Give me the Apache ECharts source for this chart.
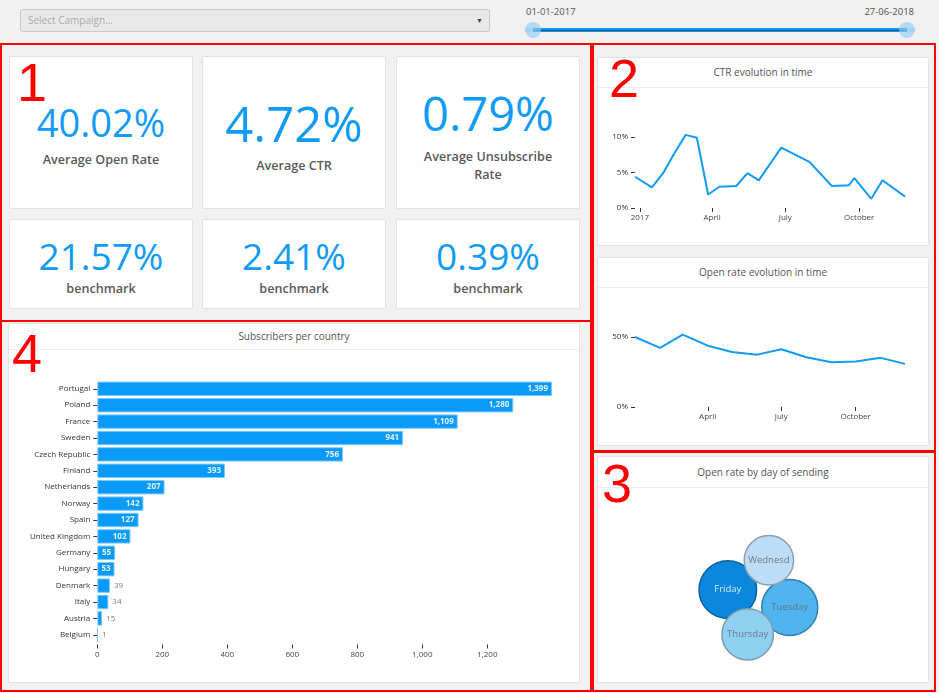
<!DOCTYPE html>
<html>
<head>
<meta charset="utf-8">
<script src="https://cdn.jsdelivr.net/npm/echarts@6/dist/echarts.min.js"></script>
<style>
html,body{margin:0;padding:0;width:939px;height:693px;overflow:hidden;background:#f1f1f1;font-family:"Open Sans",sans-serif;}
.card{position:absolute;background:#fff;border:1px solid #e3e3e3;border-radius:2px;box-sizing:border-box;}
.hdr{position:absolute;left:0;right:0;top:0;border-bottom:1px solid #ececec;text-align:center;color:#555;font-size:10px;}
.kpi{position:absolute;text-align:center;color:#129bf5;white-space:nowrap;font-weight:400;}
.lbl{position:absolute;text-align:center;color:#5a5a5a;font-weight:600;font-size:12.6px;line-height:13px;white-space:nowrap;}
.red{position:absolute;border:2px solid #ff0000;box-sizing:border-box;pointer-events:none;z-index:5;}
.num{position:absolute;color:#ff0000;font-family:"Liberation Sans",Arial,sans-serif;font-size:54px;line-height:54px;z-index:5;}
#chart{position:absolute;left:0;top:0;width:939px;height:693px;z-index:3;}
.sel{position:absolute;left:20px;top:9px;width:470px;height:23px;background:#e9e9e9;border:1px solid #c9c9c9;border-radius:3px;box-sizing:border-box;font-size:10px;color:#a9a9a9;line-height:21px;padding-left:7px;}
.sel .arr{position:absolute;right:6px;top:0;font-size:7px;color:#444;}
.sl{position:absolute;font-size:9.5px;color:#555;line-height:12px;}
</style>
</head>
<body>
<div class="sel">Select Campaign...<span class="arr">&#9660;</span></div>
<div class="sl" style="left:526px;top:6px;">01-01-2017</div>
<div class="sl" style="left:814px;top:6px;width:100px;text-align:right;">27-06-2018</div>
<div style="position:absolute;left:524px;top:28px;width:392px;height:4px;background:rgba(150,205,245,0.5);border-radius:2px;"></div>
<div style="position:absolute;left:533px;top:28px;width:374px;height:4px;background:#1993ec;"></div>
<div style="position:absolute;left:533px;top:29.5px;width:374px;height:1px;background:#0b5c9e;"></div>
<div style="position:absolute;left:525px;top:22px;width:16px;height:16px;border-radius:50%;background:rgba(150,205,245,0.65);"></div>
<div style="position:absolute;left:899px;top:22px;width:16px;height:16px;border-radius:50%;background:rgba(150,205,245,0.65);"></div>

<div id="cards"></div>

<div class="card" style="left:597px;top:57px;width:332px;height:189px;"><div class="hdr" style="height:29px;line-height:29px;">CTR evolution in time</div></div>
<div class="card" style="left:597px;top:257px;width:332px;height:189px;"><div class="hdr" style="height:29px;line-height:29px;">Open rate evolution in time</div></div>
<div class="card" style="left:597px;top:456px;width:332px;height:227px;"><div class="hdr" style="height:30px;line-height:31px;">Open rate by day of sending</div></div>
<div class="card" style="left:8px;top:323px;width:572px;height:360px;"><div class="hdr" style="height:25px;line-height:24px;">Subscribers per country</div></div>

<div id="chart"></div>

<div class="red" style="left:0;top:43px;width:592px;height:279px;"></div>
<div class="red" style="left:0;top:320px;width:592px;height:372px;"></div>
<div class="red" style="left:592px;top:43px;width:344px;height:409px;"></div>
<div class="red" style="left:592px;top:451px;width:344px;height:241px;"></div>
<div class="num" style="left:17px;top:55px;">1</div>
<div class="num" style="left:609px;top:51px;">2</div>
<div class="num" style="left:602px;top:456px;">3</div>
<div class="num" style="left:12px;top:326px;">4</div>

<script>
// ---------- data ----------
const kpiValues = ['40.02%', '4.72%', '0.79%'];
const kpiLabels = ['Average Open Rate', 'Average CTR', 'Average Unsubscribe<br>Rate'];
const benchmarkValues = ['21.57%', '2.41%', '0.39%'];
const benchmarkLabel = 'benchmark';

const countries = ['Portugal','Poland','France','Sweden','Czech Republic','Finland','Netherlands','Norway','Spain','United Kingdom','Germany','Hungary','Denmark','Italy','Austria','Belgium'];
const subscribers = [1399,1280,1109,941,756,393,207,142,127,102,55,53,39,34,15,1];
const barTicks = [0,200,400,600,800,1000,1200];

const ctrDates = ['2016-12-26','2017-01-16','2017-01-30','2017-02-13','2017-02-27','2017-03-13','2017-03-27','2017-04-10','2017-05-01','2017-05-15','2017-05-29','2017-06-26','2017-07-31','2017-08-28','2017-09-18','2017-09-25','2017-10-16','2017-10-30','2017-11-27'];
const ctrValues = [4.4,2.9,4.9,7.7,10.3,9.9,1.9,3.0,3.1,4.9,3.9,8.5,6.5,3.1,3.2,4.2,1.3,3.9,1.6];
const ctrTickDates = ['2017-01-01','2017-04-01','2017-07-01','2017-10-01'];
const ctrTickLabels = ['2017','April','July','October'];
const ctrPctTicks = [0,5,10];

const openDates = ['2017-01-01','2017-02-01','2017-03-01','2017-04-01','2017-05-01','2017-06-01','2017-07-01','2017-08-01','2017-09-01','2017-10-01','2017-11-01','2017-12-01'];
const openValues = [50.0,42.2,51.7,43.8,39.3,37.4,41.2,35.5,32.0,32.5,35.1,30.8];
const openTickDates = ['2017-04-01','2017-07-01','2017-10-01'];
const openTickLabels = ['April','July','October'];
const openPctTicks = [0,50];

const days = ['Friday','Wednesday','Tuesday','Thursday'];
const dayOpenRate = [43.2,37.1,42.0,38.6];

// ---------- KPI cards (HTML) ----------
const colLeft = [9, 202, 396];
const topNum = [{fs:38, top:102.8}, {fs:49, top:99}, {fs:47, top:90}];
const topLbl = [152.5, 158.5, 148];
let html = '';
for (let i = 0; i < 3; i++) {
  html += '<div class="card" style="left:'+colLeft[i]+'px;top:56px;width:184px;height:153px;"></div>';
  html += '<div class="card" style="left:'+colLeft[i]+'px;top:219px;width:184px;height:90px;"></div>';
  html += '<div class="kpi" style="left:'+colLeft[i]+'px;width:184px;top:'+topNum[i].top+'px;font-size:'+topNum[i].fs+'px;line-height:'+topNum[i].fs+'px;">'+kpiValues[i]+'</div>';
  html += '<div class="lbl" style="left:'+colLeft[i]+'px;width:184px;top:'+topLbl[i]+'px;'+(i===2?'line-height:17.5px;':'')+'">'+kpiLabels[i]+'</div>';
  html += '<div class="kpi" style="left:'+colLeft[i]+'px;width:184px;top:236.6px;font-size:37px;line-height:37px;">'+benchmarkValues[i]+'</div>';
  html += '<div class="lbl" style="left:'+colLeft[i]+'px;width:184px;top:281.8px;">'+benchmarkLabel+'</div>';
}
document.getElementById('cards').innerHTML = html;

// ---------- chart ----------
function ts(s) { const p = s.split('-').map(Number); return new Date(p[0], p[1]-1, p[2]).getTime(); }
const BLUE = '#129bf5';
const axisFont = {fontFamily:'Open Sans', fontSize:8, color:'#444'};

const dayStyle = {
  Friday:    {color:'#0b87dc', border:'#0a619f', text:'#d4eaf9'},
  Wednesday: {color:'#bddcf7', border:'#8e9fae', text:'#6e7d8a'},
  Tuesday:   {color:'#50b4ef', border:'#2e80b2', text:'#5f7385'},
  Thursday:  {color:'#8fd0f0', border:'#7b9cb2', text:'#6e7d8a'}
};
const drawOrder = ['Friday','Tuesday','Wednesday','Thursday'];
const BUBBLE_SCALE = 1.333;      // px of diameter per % open rate
const PACK_REACH = 89;           // packing: larger bubbles sit nearer the cluster centre
const POLAR_R = 40;

function dateFormatter(dates, labels) {
  const t = dates.map(ts);
  return function (v) { const i = t.indexOf(v); return i >= 0 ? labels[i] : ''; };
}

const chart = echarts.init(document.getElementById('chart'), null, {renderer:'canvas'});
chart.setOption({
  animation: false,
  backgroundColor: 'transparent',
  textStyle: {fontFamily:'Open Sans'},
  grid: [
    {left:97.3, top:380.6, width:455, height:262.4, outerBoundsMode:'none'},
    {left:635, top:129.9, width:270, height:78.1, outerBoundsMode:'none'},
    {left:635, top:330, width:270, height:77, outerBoundsMode:'none'}
  ],
  polar: {center:[758, 598.3], radius:POLAR_R},
  angleAxis: {type:'category', data:days, startAngle:209, clockwise:true,
    axisLine:{show:false}, axisTick:{show:false}, axisLabel:{show:false}, splitLine:{show:false}},
  radiusAxis: {type:'value', min:0, max:POLAR_R,
    axisLine:{show:false}, axisTick:{show:false}, axisLabel:{show:false}, splitLine:{show:false}},
  xAxis: [
    {type:'value', gridIndex:0, min:0, max:1400, offset:1.5,
      axisLine:{show:false}, splitLine:{show:false},
      axisTick:{show:true, length:4, customValues:barTicks, lineStyle:{color:'#333'}},
      axisLabel:Object.assign({customValues:barTicks, margin:6, formatter:(v)=>echarts.format.addCommas(v)}, axisFont)},
    {type:'value', gridIndex:1, min:ts(ctrDates[0]), max:ts(ctrDates[ctrDates.length-1]), scale:true,
      axisLine:{show:false}, splitLine:{show:false},
      axisTick:{show:true, length:4, customValues:ctrTickDates.map(ts), lineStyle:{color:'#333'}},
      axisLabel:Object.assign({customValues:ctrTickDates.map(ts), margin:5.5, formatter:dateFormatter(ctrTickDates, ctrTickLabels)}, axisFont)},
    {type:'value', gridIndex:2, min:ts(openDates[0]), max:ts(openDates[openDates.length-1]), scale:true,
      axisLine:{show:false}, splitLine:{show:false},
      axisTick:{show:true, length:4, customValues:openTickDates.map(ts), lineStyle:{color:'#333'}},
      axisLabel:Object.assign({customValues:openTickDates.map(ts), margin:5.5, formatter:dateFormatter(openTickDates, openTickLabels)}, axisFont)}
  ],
  yAxis: [
    {type:'category', gridIndex:0, data:countries, inverse:true,
      axisLine:{show:false}, splitLine:{show:false},
      axisTick:{show:true, length:4, alignWithLabel:true, lineStyle:{color:'#333'}},
      axisLabel:Object.assign({margin:7}, axisFont, {color:'#333'})},
    {type:'value', gridIndex:1, min:0, max:11,
      axisLine:{show:false}, splitLine:{show:false},
      axisTick:{show:true, length:4, customValues:ctrPctTicks, lineStyle:{color:'#333'}},
      axisLabel:Object.assign({customValues:ctrPctTicks, margin:7, formatter:'{value}%'}, axisFont, {color:'#333'})},
    {type:'value', gridIndex:2, min:0, max:55,
      axisLine:{show:false}, splitLine:{show:false},
      axisTick:{show:true, length:4, customValues:openPctTicks, lineStyle:{color:'#333'}},
      axisLabel:Object.assign({customValues:openPctTicks, margin:7, formatter:'{value}%'}, axisFont, {color:'#333'})}
  ],
  series: [
    {type:'bar', xAxisIndex:0, yAxisIndex:0, barCategoryGap:'12%',
      itemStyle:{color:'#0a9bfa', borderColor:'#7fcaf9', borderWidth:1},
      data: subscribers.map(v => ({
        value: v,
        label: v >= 50
          ? {show:true, position:'insideRight', distance:4, color:'rgba(255,255,255,0.88)', fontWeight:'bold', fontSize:8, fontFamily:'Open Sans'}
          : {show:true, position:'right', distance:4, color:'#777', fontSize:8, fontFamily:'Open Sans'}
      })),
      label:{formatter:(p)=>echarts.format.addCommas(p.value)}
    },
    {type:'line', xAxisIndex:1, yAxisIndex:1, showSymbol:false, symbol:'none',
      lineStyle:{color:BLUE, width:2}, itemStyle:{color:BLUE},
      data: ctrDates.map((d,i)=>[ts(d), ctrValues[i]])},
    {type:'line', xAxisIndex:2, yAxisIndex:2, showSymbol:false, symbol:'none',
      lineStyle:{color:BLUE, width:2}, itemStyle:{color:BLUE},
      data: openDates.map((d,i)=>[ts(d), openValues[i]])},
    {type:'scatter', coordinateSystem:'polar',
      data: drawOrder.map(name => {
        const i = days.indexOf(name);
        const size = dayOpenRate[i] * BUBBLE_SCALE;
        const st = dayStyle[name];
        return {
          name: name,
          value: [PACK_REACH - size, i, dayOpenRate[i]],
          symbolSize: size,
          itemStyle: {color: st.color, borderColor: st.border, borderWidth: 1.5, opacity: 1},
          label: {show:true, position:'inside', formatter:'{b}', color: st.text, fontSize:9.5,
            fontFamily:'Open Sans', width: size - 5, overflow:'truncate', ellipsis:''}
        };
      })
    }
  ]
});
</script>
</body>
</html>
